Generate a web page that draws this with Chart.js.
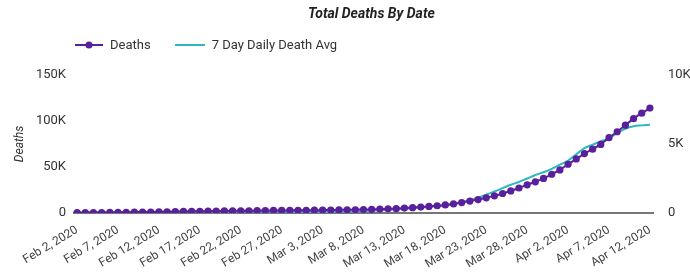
<!DOCTYPE html>
<html>
<head>
<meta charset="utf-8">
<script src="https://cdn.jsdelivr.net/npm/chart.js@4.4.1/dist/chart.umd.min.js"></script>
<style>
  body { margin: 0; background: #fff; overflow: hidden; font-family: Roboto, sans-serif; }
  #wrap { position: relative; width: 690px; height: 274px; }
  #titre { position: absolute; top: 5px; left: 308px; font: italic bold 14px Roboto, sans-serif; color: #222; }
  #legende { position: absolute; top: 37px; left: 75px; font: 13px Roboto, sans-serif; color: #333; display: flex; align-items: center; }
  .item { display: flex; align-items: center; margin-right: 24px; }
  .item canvas { margin-right: 7px; }
  canvas#graph { position: absolute; left: 0; top: 0; }
</style>
</head>
<body>
<div id="wrap">
  <canvas id="graph" width="690" height="274"></canvas>
  <div id="titre">Total Deaths By Date</div>
  <div id="legende">
    <div class="item"><canvas id="leg1" width="28" height="10"></canvas>Deaths</div>
    <div class="item"><canvas id="leg2" width="30" height="10"></canvas>7 Day Daily Death Avg</div>
  </div>
</div>
<script>
// les données
const jours = [];
const debut = new Date(2020, 1, 2);
const mois = ['Jan', 'Feb', 'Mar', 'Apr'];
for (let i = 0; i < 71; i++) {
  let d = new Date(debut.getTime());
  d.setDate(debut.getDate() + i);
  jours.push(mois[d.getMonth()] + ' ' + d.getDate() + ', 2020');
}

const deaths = [
  362, 426, 492, 564, 634, 719, 806, 906, 1013, 1113, 1118, 1371, 1523, 1666,
  1770, 1868, 2007, 2122, 2247, 2251, 2458, 2469, 2629, 2708, 2770, 2814, 2872, 2941,
  2996, 3085, 3160, 3254, 3348, 3460, 3558, 3802, 3988, 4262, 4615, 4720, 5404, 5819,
  6440, 7126, 7905, 8733, 9867, 11299, 12973, 14623, 16497, 18615, 21181, 23970,
  27198, 30652, 33925, 37582, 42107,
  46809, 52983, 58787, 64606, 69374, 74565, 81865, 88338, 95455, 102525, 108503, 114091
];

const moyenne7j = [
  45, 50, 55, 60, 65, 70, 75, 80, 85, 90,
  95, 100, 105, 110, 112, 110, 108, 105, 100,
  95, 90, 85, 80, 75, 70, 68, 65, 65,
  65, 70, 75, 80, 85, 90, 110, 140, 170, 200,
  240, 270, 300, 340, 390, 440, 500, 570, 660, 780, 920, 1100,
  1330, 1560, 1800, 2050, 2250, 2500, 2750, 2950, 3200, 3500, 3800,
  4250, 4700, 4950, 5200, 5400, 5800, 6100, 6280, 6350, 6400
];

const ticksGauche = [0, 50000, 100000, 150000];
const ticksDroite = [0, 5000, 10000];

const violet = '#5a1f9c';
const cyan = '#2bb8be';

function enK(v) {
  return v === 0 ? '0' : (v / 1000) + 'K';
}

// petits symboles de la légende
let l1 = document.getElementById('leg1').getContext('2d');
l1.strokeStyle = violet; l1.lineWidth = 2;
l1.beginPath(); l1.moveTo(0, 5); l1.lineTo(28, 5); l1.stroke();
l1.fillStyle = violet;
l1.beginPath(); l1.arc(14, 5, 3.5, 0, Math.PI * 2); l1.fill();
let l2 = document.getElementById('leg2').getContext('2d');
l2.strokeStyle = cyan; l2.lineWidth = 2;
l2.beginPath(); l2.moveTo(0, 5); l2.lineTo(30, 5); l2.stroke();

// Graphique
var ctx = document.getElementById('graph').getContext('2d');
var myChart = new Chart(ctx, {
  type: 'line',
  data: {
    labels: jours,
    datasets: [{
      label: 'Deaths',
      data: deaths,
      yAxisID: 'y',
      borderColor: violet,
      backgroundColor: violet,
      borderWidth: 2,
      pointRadius: 3.6,
      pointBorderWidth: 0,
      pointBackgroundColor: violet,
      tension: 0.2
    }, {
      label: '7 Day Daily Death Avg',
      data: moyenne7j,
      yAxisID: 'y2',
      borderColor: cyan,
      backgroundColor: cyan,
      borderWidth: 2,
      pointRadius: 0,
      tension: 0.35
    }]
  },
  options: {
    responsive: false,
    devicePixelRatio: 1,
    animation: false,
    layout: { padding: { top: 75, left: 0, right: 0, bottom: 0 } },
    plugins: {
      legend: { display: false },
      title: { display: false },
      tooltip: { enabled: false }
    },
    scales: {
      x: {
        offset: true,
        grid: { display: false },
        border: { display: false },
        ticks: {
          autoSkip: false,
          minRotation: 31,
          maxRotation: 31,
          padding: 2,
          color: '#444',
          font: { family: 'Roboto', size: 12 },
          callback: function(val, i) { return i % 5 === 0 ? jours[i] : ''; }
        },
        afterFit: function(s) { s.height = 61; }
      },
      y: {
        position: 'left',
        min: 0,
        max: 150000,
        afterBuildTicks: function(s) { s.ticks = ticksGauche.map(v => ({ value: v })); },
        border: { display: false },
        grid: {
          drawTicks: false,
          lineWidth: 2,
          color: c => c.tick.value === 0 ? '#777' : 'rgba(0,0,0,0)'
        },
        ticks: {
          padding: 7,
          color: '#333',
          font: { family: 'Roboto', size: 13 },
          callback: v => enK(v)
        },
        title: {
          display: true,
          text: 'Deaths',
          color: '#333',
          padding: { top: 13, bottom: 0 },
          font: { family: 'Roboto', size: 12, style: 'italic' }
        },
        afterFit: function(s) { s.width = 73; }
      },
      y2: {
        position: 'right',
        min: 0,
        max: 10000,
        afterBuildTicks: function(s) { s.ticks = ticksDroite.map(v => ({ value: v })); },
        border: { display: false },
        grid: { display: false },
        ticks: {
          padding: 6,
          color: '#333',
          font: { family: 'Roboto', size: 13 },
          callback: v => enK(v)
        },
        afterFit: function(s) { s.width = 36; }
      }
    }
  }
});
</script>
</body>
</html>
